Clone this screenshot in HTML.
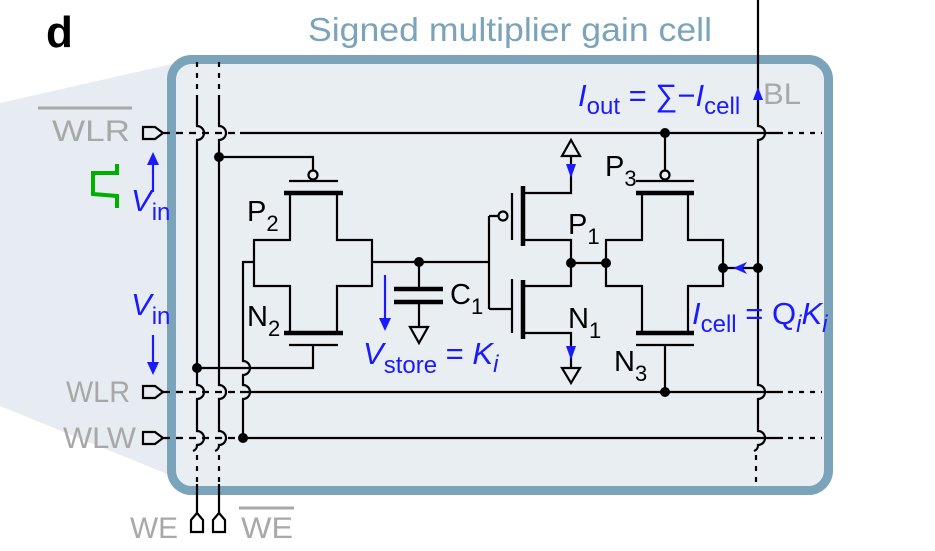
<!DOCTYPE html>
<html><head><meta charset="utf-8"><style>
html,body{margin:0;padding:0;background:#fff;}
svg{display:block;}
text{font-family:"Liberation Sans",sans-serif;}
</style></head><body>
<svg width="935" height="551" viewBox="0 0 935 551" xmlns="http://www.w3.org/2000/svg">
<polygon points="0,103 172,64 172,476 0,406" fill="#e6ecf1"/>
<rect x="171.5" y="59.5" width="657" height="431" rx="20" fill="#e9eef3" stroke="#7ba3b9" stroke-width="9"/>
<text x="46" y="47" font-size="44" font-weight="bold" fill="#000">d</text>
<text x="308" y="41" font-size="33" fill="#7ba3b9" textLength="404" lengthAdjust="spacingAndGlyphs">Signed multiplier gain cell</text>

<g stroke="#000" stroke-width="2.2" fill="none">
<g stroke-dasharray="7,6"><line x1="163" y1="133" x2="240" y2="133"/><line x1="163" y1="392" x2="240" y2="392"/><line x1="163" y1="438" x2="240" y2="438"/></g>
<line x1="240" y1="133" x2="783" y2="133"/>
<line x1="240" y1="392" x2="783" y2="392"/>
<line x1="240" y1="438" x2="783" y2="438"/>
<g stroke-dasharray="5,6"><line x1="788" y1="133" x2="822" y2="133"/><line x1="788" y1="392" x2="822" y2="392"/><line x1="788" y1="438" x2="822" y2="438"/></g>

<g stroke-dasharray="5,6"><line x1="197" y1="62" x2="197" y2="100"/><line x1="219" y1="62" x2="219" y2="100"/><line x1="197" y1="455" x2="197" y2="482"/><line x1="219" y1="455" x2="219" y2="482"/></g>
<path d="M197,100 V126 a7,7 0 0 1 0,14 V385 a7,7 0 0 1 0,14 V431 a7,7 0 0 1 0,14 a6,6 0 0 1 -4,6"/>
<path d="M219,100 V126 a7,7 0 0 1 0,14 V385 a7,7 0 0 1 0,14 V431 a7,7 0 0 1 0,14 a6,6 0 0 1 -4,6"/>
<path d="M197,484 V513 M219,484 V513"/>
<path d="M254,262 H243 V361 a7,7 0 0 1 0,14 V385 a7,7 0 0 1 0,14 V438"/>

<path d="M219,157 H313 V170"/>
<path d="M197,368 H313 V346"/>
<path d="M289,181 H338 M289,345 H338"/>
<path d="M290,193 V240 H254 V286 H290 V333 M337,193 V240 H372 V286 H337 V333"/>
<path d="M372,262 H489 M489,216 V309 M489,216 H498 M489,309 H512"/>
<path d="M419,262 V289 M419,302 V327"/>
<path d="M512,193 V240 M512,279 V333"/>
<path d="M523,193 H571 V157 M523,240 H571 V286 H523 M523,333 H571 V368"/>
<path d="M571,263 H606"/>
<path d="M665,133 V170 M636,181 H694 M636,345 H694 M665,345 V392"/>
<path d="M642,193 V240 H606 V286 H642 V333 M688,193 V240 H723 V286 H688 V333"/>
<path d="M723,268 H758"/>
<path d="M758,0 V126 a7,7 0 0 1 0,14 V385 a7,7 0 0 1 0,14 V431 a7,7 0 0 1 0,14 a6,6 0 0 1 -4,6"/>
<line x1="756" y1="455" x2="756" y2="488" stroke-dasharray="5,6"/>

<path d="M143,127 H155 L163,133 L155,139 H143 Z"/>
<path d="M143,386 H155 L163,392 L155,398 H143 Z"/>
<path d="M143,432 H155 L163,438 L155,444 H143 Z"/>
<path d="M191,532 V520 L197,513 L203,520 V532 Z"/>
<path d="M213,532 V520 L219,513 L225,520 V532 Z"/>
<path d="M410,327 H428 L419,343 Z"/>
<path d="M562,156 H580 L571,140 Z"/>
<path d="M562,368 H580 L571,383 Z"/>
<circle cx="313" cy="175" r="4.5" fill="#e9eef3"/>
<circle cx="665" cy="175" r="4.5" fill="#e9eef3"/>
<circle cx="503" cy="216" r="4.5" fill="#e9eef3"/>
</g>
<g stroke="#000" stroke-width="4.5" fill="none">
<path d="M284,193 H343 M284,333 H343 M636,193 H694 M636,333 H694"/>
<path d="M523,186 V246 M523,280 V339"/>
<path d="M394,289 H443 M394,302 H443"/>
</g>
<g fill="#000">
<circle cx="219" cy="157" r="5"/><circle cx="197" cy="368" r="5"/><circle cx="243" cy="438" r="5"/>
<circle cx="419" cy="262" r="5"/><circle cx="571" cy="263" r="5"/><circle cx="606" cy="263" r="5"/>
<circle cx="723" cy="268" r="5"/><circle cx="758" cy="268" r="5"/>
<circle cx="665" cy="133" r="5"/><circle cx="665" cy="392" r="5"/>
</g>
<g stroke="#1a1aff" stroke-width="2.2" fill="#1a1aff">
<line x1="153" y1="192" x2="153" y2="160"/><path d="M147,165 L153,152 L159,165 Z" stroke="none"/>
<line x1="153" y1="335" x2="153" y2="365"/><path d="M147,362 L153,375 L159,362 Z" stroke="none"/>
<line x1="385" y1="275" x2="385" y2="322"/><path d="M379,318 L385,331 L391,318 Z" stroke="none"/>
<path d="M566,164 L571,178 L576,164 Z" stroke="none"/>
<path d="M566,346 L571,360 L576,346 Z" stroke="none"/>
<path d="M753,100 L758,87 L763,100 Z" stroke="none"/>
<path d="M747,262 L733,268 L747,274 L743,268 Z" stroke="none"/>
</g>
<path d="M117,164 V173 L93,173 V194 L117,196 V208" stroke="#00b000" stroke-width="4" fill="none"/>

<g font-size="29" fill="#000">
<text x="247" y="221">P<tspan font-size="22" dy="10">2</tspan></text>
<text x="247" y="326">N<tspan font-size="22" dy="10">2</tspan></text>
<text x="450" y="304">C<tspan font-size="22" dy="10">1</tspan></text>
<text x="568" y="234">P<tspan font-size="22" dy="10">1</tspan></text>
<text x="568" y="328">N<tspan font-size="22" dy="10">1</tspan></text>
<text x="605" y="176">P<tspan font-size="22" dy="10">3</tspan></text>
<text x="614" y="371">N<tspan font-size="22" dy="10">3</tspan></text>
</g>
<g font-size="30" fill="#a8a8a8">
<text x="52" y="141" textLength="78" lengthAdjust="spacingAndGlyphs">WLR</text><line x1="38" y1="108" x2="132" y2="108" stroke="#a8a8a8" stroke-width="3"/>
<text x="66" y="402" textLength="64" lengthAdjust="spacingAndGlyphs">WLR</text>
<text x="63" y="448" textLength="73" lengthAdjust="spacingAndGlyphs">WLW</text>
<text x="130" y="538" textLength="48" lengthAdjust="spacingAndGlyphs">WE</text>
<text x="241" y="538" textLength="52" lengthAdjust="spacingAndGlyphs">WE</text><line x1="239" y1="508" x2="294" y2="508" stroke="#a8a8a8" stroke-width="3"/>
<text x="763" y="104" textLength="38" lengthAdjust="spacingAndGlyphs">BL</text>
</g>
<g font-size="31" fill="#1a1aff">
<text x="131" y="211" font-style="italic">V<tspan font-size="24" font-style="normal" dy="9">in</tspan></text>
<text x="131" y="315" font-style="italic">V<tspan font-size="24" font-style="normal" dy="9">in</tspan></text>
<text x="363" y="364"><tspan font-style="italic">V</tspan><tspan font-size="24" dy="9">store</tspan><tspan dy="-9"> = </tspan><tspan font-style="italic">K</tspan><tspan font-size="24" font-style="italic" dy="8">i</tspan></text>
<text x="578" y="106"><tspan font-style="italic">I</tspan><tspan font-size="24" dy="8">out</tspan><tspan dy="-8"> = ∑−</tspan><tspan font-style="italic">I</tspan><tspan font-size="24" dy="8">cell</tspan></text>
<text x="692" y="324"><tspan font-style="italic">I</tspan><tspan font-size="24" dy="8">cell</tspan><tspan dy="-8"> = Q</tspan><tspan font-size="24" font-style="italic" dy="8">i</tspan><tspan font-style="italic" dy="-8">K</tspan><tspan font-size="24" font-style="italic" dy="8">i</tspan></text>
</g>
</svg>
</body></html>
